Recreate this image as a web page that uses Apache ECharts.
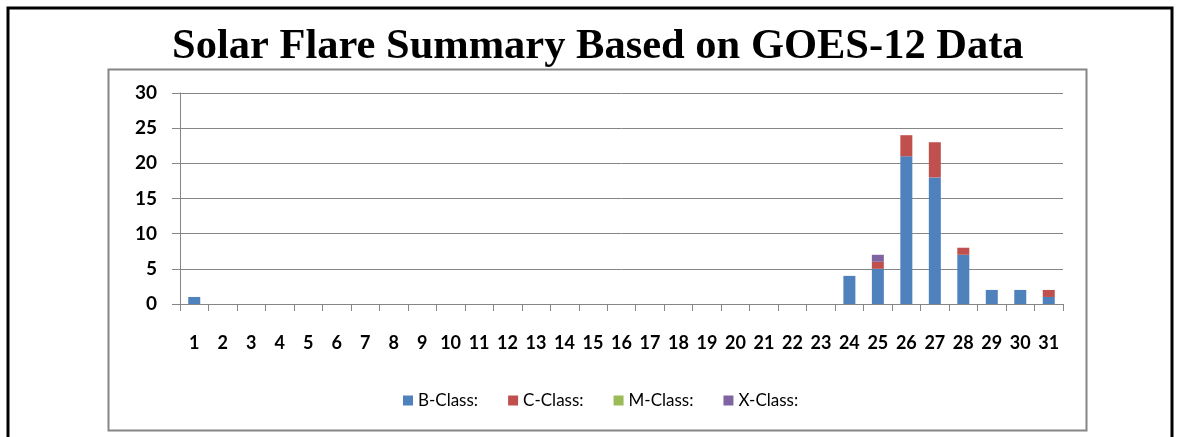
<!DOCTYPE html>
<html>
<head>
<meta charset="utf-8">
<script src="https://cdn.jsdelivr.net/npm/echarts@6/dist/echarts.min.js"></script>
<style>
  html, body { margin: 0; padding: 0; background: #fff; }
  #main { width: 1177px; height: 437px; }
</style>
</head>
<body>
<div id="main"></div>
<script>
// days of the month
var days = [];
for (var d = 1; d <= 31; d++) days.push(String(d));

var bClass = [1, 0, 0, 0, 0, 0, 0, 0, 0, 0, 0, 0, 0, 0, 0, 0, 0, 0, 0, 0, 0, 0, 0, 4, 5, 21, 18, 7, 2, 2, 1];
var cClass = [0, 0, 0, 0, 0, 0, 0, 0, 0, 0, 0, 0, 0, 0, 0, 0, 0, 0, 0, 0, 0, 0, 0, 0, 1, 3, 5, 1, 0, 0, 1];
var mClass = [0, 0, 0, 0, 0, 0, 0, 0, 0, 0, 0, 0, 0, 0, 0, 0, 0, 0, 0, 0, 0, 0, 0, 0, 0, 0, 0, 0, 0, 0, 0];
var xClass = [0, 0, 0, 0, 0, 0, 0, 0, 0, 0, 0, 0, 0, 0, 0, 0, 0, 0, 0, 0, 0, 0, 0, 0, 1, 0, 0, 0, 0, 0, 0];

var seriesNames = ['B-Class:', 'C-Class:', 'M-Class:', 'X-Class:'];
var colors = ['#4F81BD', '#C0504D', '#9BBB59', '#8064A2'];

var chartDom = document.getElementById('main');
var myChart = echarts.init(chartDom);

function bar(name, data) {
  return {
    name: name,
    type: 'bar',
    stack: 'total',
    barWidth: 12,
    data: data
  };
}

var option = {
  animation: false,
  color: colors,
  title: {
    text: 'Solar Flare Summary Based on GOES-12 Data',
    left: 167,
    top: 21,
    textStyle: {
      fontFamily: 'Liberation Serif',
      fontWeight: 'bold',
      fontSize: 42.5,
      color: '#000'
    }
  },
  graphic: [
    {
      type: 'polyline',
      shape: { points: [[8, 437], [8, 8], [1172, 8], [1172, 437]] },
      style: { stroke: '#000', lineWidth: 3, fill: null }
    },
    {
      type: 'rect',
      shape: { x: 108.5, y: 69.5, width: 978, height: 361 },
      style: { stroke: '#868686', lineWidth: 2, fill: null },
      z: -1
    }
  ],
  legend: {
    data: seriesNames,
    left: 398,
    top: 387,
    itemWidth: 10,
    itemHeight: 10,
    itemGap: 30,
    icon: 'rect',
    textStyle: {
      fontFamily: 'Lato',
      fontSize: 17,
      color: '#000'
    }
  },
  grid: {
    left: 180,
    right: 114,
    top: 93,
    bottom: 133
  },
  xAxis: {
    type: 'category',
    data: days,
    axisLine: { lineStyle: { color: '#868686', width: 1 } },
    axisTick: { show: true, length: 7, lineStyle: { color: '#868686' } },
    axisLabel: {
      interval: 0,
      margin: 30,
      fontFamily: 'Lato',
      fontWeight: 'bold',
      fontSize: 18,
      color: '#000'
    }
  },
  yAxis: {
    type: 'value',
    min: 0,
    max: 30,
    interval: 5,
    axisLine: { show: true, lineStyle: { color: '#868686' } },
    axisTick: { show: true, length: 8, lineStyle: { color: '#868686' } },
    splitLine: { lineStyle: { color: '#868686' } },
    axisLabel: {
      margin: 23,
      fontFamily: 'Lato',
      fontWeight: 'bold',
      fontSize: 19,
      color: '#000'
    }
  },
  series: [
    bar(seriesNames[0], bClass),
    bar(seriesNames[1], cClass),
    bar(seriesNames[2], mClass),
    bar(seriesNames[3], xClass)
  ]
};

option && myChart.setOption(option);
</script>
</body>
</html>
